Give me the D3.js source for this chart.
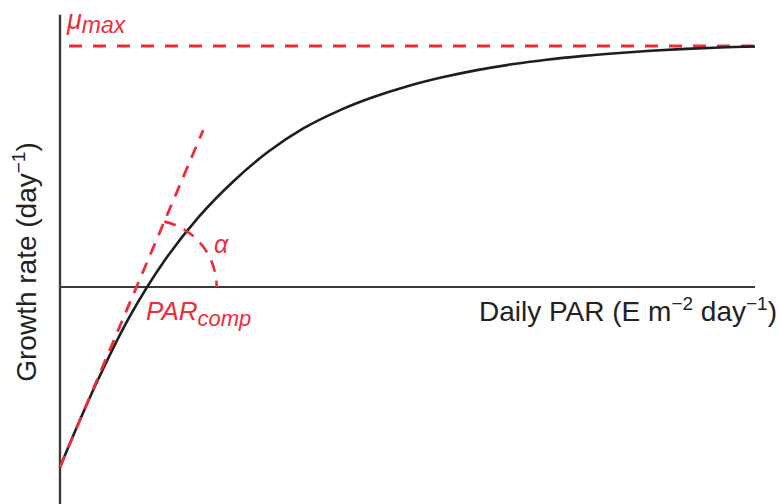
<!DOCTYPE html>
<html>
<head>
<meta charset="utf-8">
<script src="https://cdn.jsdelivr.net/npm/d3@7"></script>
<style>
  body { margin: 0; background: #fff; }
  text { font-family: "Liberation Sans", Arial, sans-serif; }
</style>
</head>
<body>
<script>
// light-response curve (growth rate vs daily PAR)
const parValues    = [0, 5, 10, 15, 20, 25, 30, 35, 40, 45, 50, 55, 60, 65, 70, 75, 80, 85, 90, 95, 100];
const growthValues = [-0.747, -0.414, -0.124, 0.108, 0.292, 0.440, 0.562, 0.658, 0.730, 0.787, 0.833,
                      0.870, 0.900, 0.924, 0.943, 0.958, 0.970, 0.980, 0.988, 0.994, 0.998];

// initial slope (alpha) tangent and mu max line
const tangentPar    = [0, 20.6];
const tangentGrowth = [-0.747, 0.651];
const muMaxPar      = [1.3, 100];
const muMax         = 1;
const parComp       = 12.9;

const axisTop    = 1.13;
const axisBottom = -0.9;

const red = "#ee2c3c";

const svg = d3.select("body")
              .append("svg")
              .attr("width", 781)
              .attr("height", 504);

const x = d3.scaleLinear().domain([0, 100]).range([60, 755]);
const y = d3.scaleLinear().domain([0, 1]).range([287, 46]);

// axes (no ticks)
svg.append("line")
   .attr("x1", x(0)).attr("x2", x(0))
   .attr("y1", y(axisTop)).attr("y2", y(axisBottom))
   .attr("stroke", "#3a3a3a")
   .attr("stroke-width", 2.4);

svg.append("line")
   .attr("x1", x(0)).attr("x2", x(100))
   .attr("y1", y(0)).attr("y2", y(0))
   .attr("stroke", "#3a3a3a")
   .attr("stroke-width", 1.8);

// mu max
svg.append("line")
   .attr("x1", x(muMaxPar[0])).attr("x2", x(muMaxPar[1]))
   .attr("y1", y(muMax)).attr("y2", y(muMax))
   .attr("stroke", red)
   .attr("stroke-width", 2.8)
   .attr("stroke-dasharray", "13,11");

// curve
const line = d3.line()
               .x((d, i) => x(parValues[i]))
               .y(d => y(d))
               .curve(d3.curveCatmullRom.alpha(0.5));

svg.append("path")
   .attr("d", line(growthValues))
   .attr("fill", "none")
   .attr("stroke", "#1e1e1e")
   .attr("stroke-width", 2.6);

// tangent
svg.append("line")
   .attr("x1", x(tangentPar[0])).attr("y1", y(tangentGrowth[0]))
   .attr("x2", x(tangentPar[1])).attr("y2", y(tangentGrowth[1]))
   .attr("stroke", red)
   .attr("stroke-width", 2.8)
   .attr("stroke-dasharray", "12,9");

// alpha arc: centred on PARcomp, from the tangent line down to the x axis
const cx = x(parComp), cy = y(0), r = 67;
const slope = (y(tangentGrowth[0]) - y(tangentGrowth[1])) / (x(tangentPar[1]) - x(tangentPar[0]));
const x0 = x(tangentPar[0]) + (y(tangentGrowth[0]) - cy) / slope;   // tangent meets axis
const ux = 1 / Math.hypot(1, slope), uy = -slope / Math.hypot(1, slope);
const bx = x0 - cx;
const t = (-(2 * bx * ux) + Math.sqrt(4 * bx * bx * ux * ux - 4 * (bx * bx - r * r))) / 2;
const a0 = Math.atan2(uy * t, x0 + ux * t - cx);

const arc = d3.path();
arc.arc(cx, cy, r, a0, 0, false);

svg.append("path")
   .attr("d", arc.toString())
   .attr("fill", "none")
   .attr("stroke", red)
   .attr("stroke-width", 2.6)
   .attr("stroke-dasharray", "12,9");

// labels
const mu = svg.append("text")
              .attr("x", 67)
              .attr("y", 29)
              .attr("fill", red)
              .attr("font-size", 27)
              .attr("font-style", "italic");
mu.append("tspan").text("μ");
mu.append("tspan").attr("dy", 4).attr("font-size", 23).text("max");

const pc = svg.append("text")
              .attr("x", 146)
              .attr("y", 320)
              .attr("fill", red)
              .attr("font-size", 26)
              .attr("font-style", "italic");
pc.append("tspan").text("PAR");
pc.append("tspan").attr("dy", 6).attr("font-size", 22).text("comp");

svg.append("text")
   .attr("x", 214)
   .attr("y", 253)
   .attr("fill", red)
   .attr("font-size", 25)
   .attr("font-style", "italic")
   .text("α");

const xl = svg.append("text")
              .attr("x", 777)
              .attr("y", 321)
              .attr("text-anchor", "end")
              .attr("fill", "#222")
              .attr("font-size", 28);
xl.append("tspan").text("Daily PAR (E m");
xl.append("tspan").attr("dy", -11).attr("font-size", 19).text("−2");
xl.append("tspan").attr("dy", 11).text(" day");
xl.append("tspan").attr("dy", -11).attr("font-size", 19).text("−1");
xl.append("tspan").attr("dy", 11).text(")");

const yl = svg.append("text")
              .attr("transform", "translate(36,262) rotate(-90)")
              .attr("text-anchor", "middle")
              .attr("fill", "#222")
              .attr("font-size", 28);
yl.append("tspan").text("Growth rate (day");
yl.append("tspan").attr("dy", -11).attr("font-size", 19).text("−1");
yl.append("tspan").attr("dy", 11).text(")");
</script>
</body>
</html>
